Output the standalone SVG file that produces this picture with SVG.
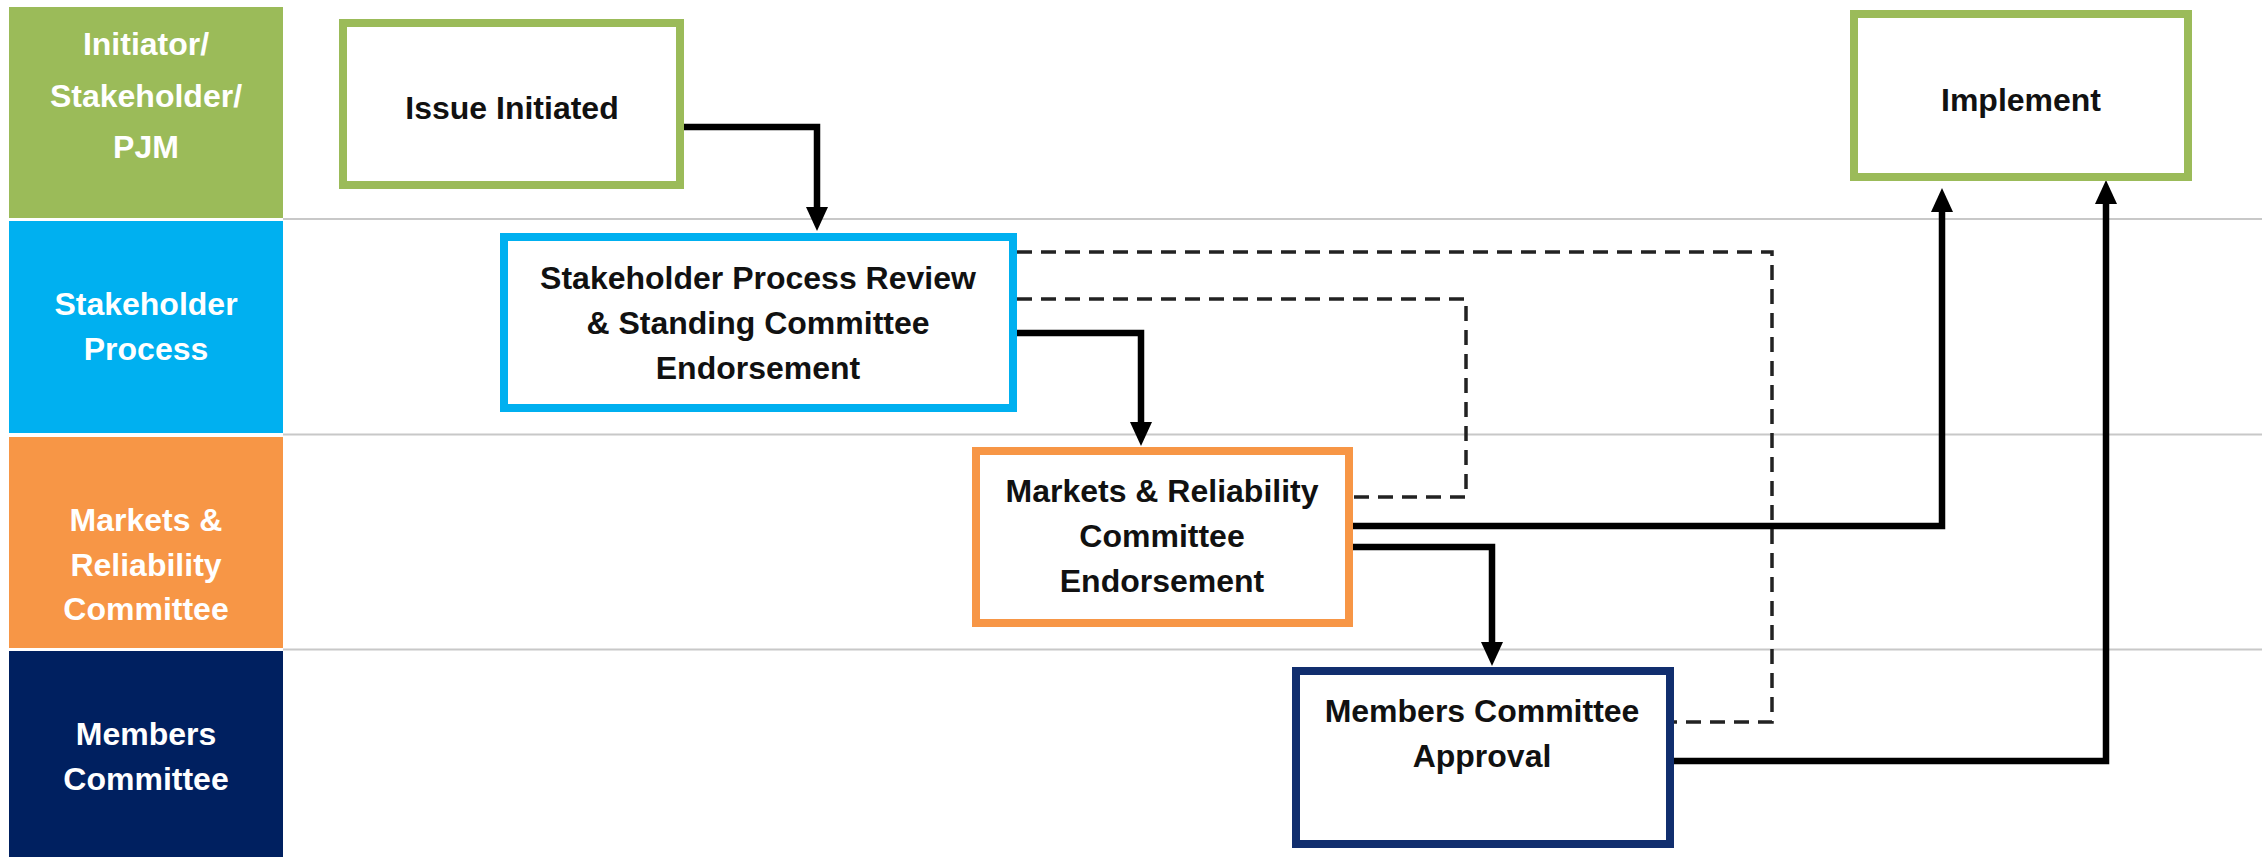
<svg xmlns="http://www.w3.org/2000/svg" width="2262" height="857" viewBox="0 0 2262 857">
<style>
  .hdr { font-family: "Liberation Sans", Arial, sans-serif; font-weight: bold; font-size: 32px; fill: #ffffff; text-anchor: middle; }
  .lbl { font-family: "Liberation Sans", Arial, sans-serif; font-weight: bold; font-size: 32px; fill: #111111; text-anchor: middle; }
  .box { fill: #ffffff; stroke-width: 8; }
  .lane { stroke: #c8c8c8; stroke-width: 2; fill: none; }
  .solid { stroke: #000000; stroke-width: 6.5; fill: none; stroke-linejoin: miter; }
  .dash { stroke: #222222; stroke-width: 3.5; fill: none; stroke-dasharray: 15 9; }
</style>
<defs>
  <marker id="arrow" viewBox="0 0 24 22" refX="1" refY="11" markerWidth="24" markerHeight="22" markerUnits="userSpaceOnUse" orient="auto">
    <path d="M0,0 L24,11 L0,22 z" fill="#000000"/>
  </marker>
</defs>
<rect x="0" y="0" width="2262" height="857" fill="#ffffff"/>

<g id="lanes">
  <line class="lane" x1="283" y1="219" x2="2262" y2="219"/>
  <line class="lane" x1="283" y1="434.5" x2="2262" y2="434.5"/>
  <line class="lane" x1="283" y1="649.5" x2="2262" y2="649.5"/>
  <g id="lane-initiator">
    <rect x="9" y="7" width="274" height="211" fill="#9bbb59"/>
    <text class="hdr" x="146" y="55">Initiator/</text>
    <text class="hdr" x="146" y="107">Stakeholder/</text>
    <text class="hdr" x="146" y="158">PJM</text>
  </g>
  <g id="lane-stakeholder">
    <rect x="9" y="221" width="274" height="212" fill="#00b0f0"/>
    <text class="hdr" x="146" y="315">Stakeholder</text>
    <text class="hdr" x="146" y="360">Process</text>
  </g>
  <g id="lane-mrc">
    <rect x="9" y="437" width="274" height="211" fill="#f79646"/>
    <text class="hdr" x="146" y="531">Markets &amp;</text>
    <text class="hdr" x="146" y="576">Reliability</text>
    <text class="hdr" x="146" y="620">Committee</text>
  </g>
  <g id="lane-members">
    <rect x="9" y="651" width="274" height="206" fill="#002060"/>
    <text class="hdr" x="146" y="745">Members</text>
    <text class="hdr" x="146" y="790">Committee</text>
  </g>
</g>

<g id="connectors">
  <path class="dash" d="M1017,252 H1772 V722 H1674"/>
  <path class="dash" d="M1017,299 H1466 V497 H1353"/>
  <path class="solid" d="M684,127 H817 V208" marker-end="url(#arrow)"/>
  <path class="solid" d="M1017,333 H1141 V423" marker-end="url(#arrow)"/>
  <path class="solid" d="M1353,526 H1942 V211" marker-end="url(#arrow)"/>
  <path class="solid" d="M1353,547 H1492 V643" marker-end="url(#arrow)"/>
  <path class="solid" d="M1674,761 H2106 V203" marker-end="url(#arrow)"/>
</g>

<g id="node-issue">
  <rect class="box" x="343" y="23" width="337" height="162" stroke="#9bbb59"/>
  <text class="lbl" x="512" y="119">Issue Initiated</text>
</g>
<g id="node-stakeholder-review">
  <rect class="box" x="504" y="237" width="509" height="171" stroke="#00b0f0"/>
  <text class="lbl" x="758" y="289">Stakeholder Process Review</text>
  <text class="lbl" x="758" y="334">&amp; Standing Committee</text>
  <text class="lbl" x="758" y="379">Endorsement</text>
</g>
<g id="node-mrc">
  <rect class="box" x="976" y="451" width="373" height="172" stroke="#f79646"/>
  <text class="lbl" x="1162" y="502">Markets &amp; Reliability</text>
  <text class="lbl" x="1162" y="547">Committee</text>
  <text class="lbl" x="1162" y="592">Endorsement</text>
</g>
<g id="node-members">
  <rect class="box" x="1296" y="671" width="374" height="173" stroke="#112e6e"/>
  <text class="lbl" x="1482" y="722">Members Committee</text>
  <text class="lbl" x="1482" y="767">Approval</text>
</g>
<g id="node-implement">
  <rect class="box" x="1854" y="14" width="334" height="163" stroke="#9bbb59"/>
  <text class="lbl" x="2021" y="111">Implement</text>
</g>
</svg>
